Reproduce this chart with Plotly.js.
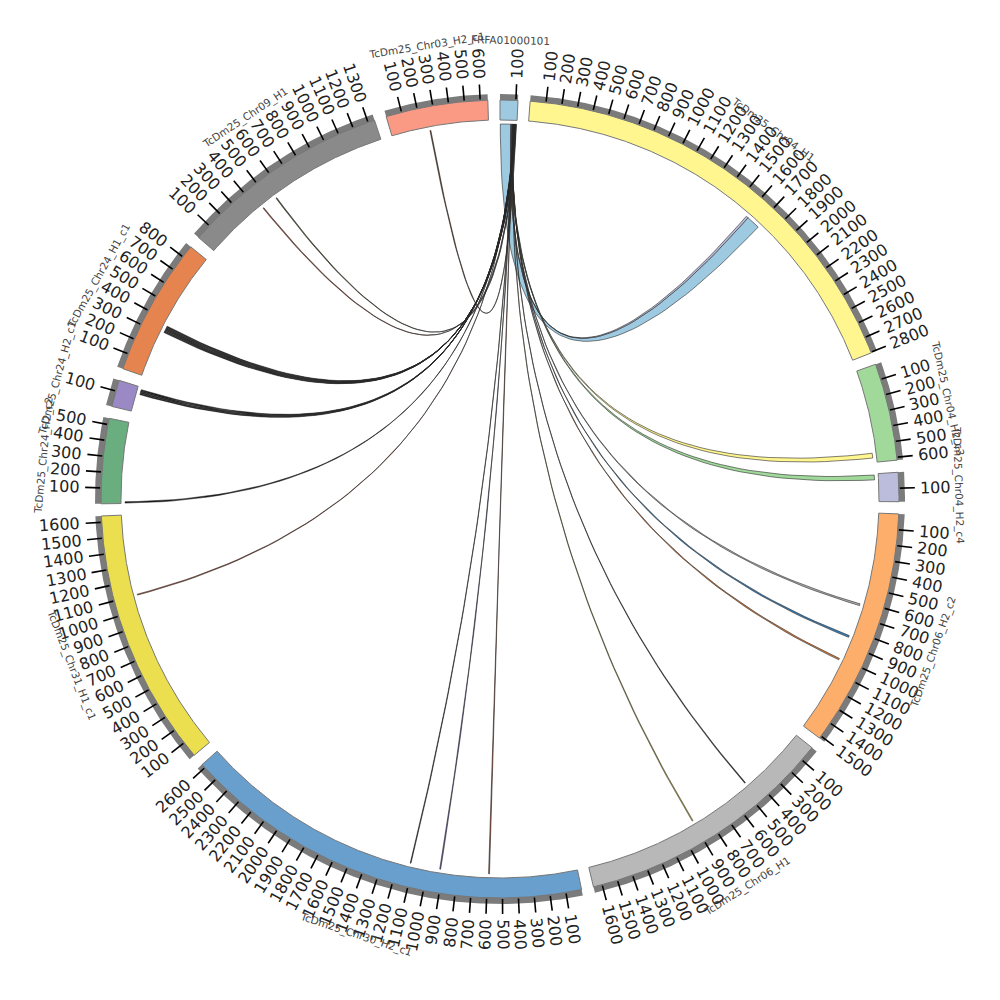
<!DOCTYPE html>
<html><head><meta charset="utf-8">
<script src="https://cdn.plot.ly/plotly-3.0.1.min.js"></script>
<style>html,body{margin:0;padding:0;background:#fff}#chart{width:1000px;height:1000px}</style>
</head><body><div id="chart"></div>
<script>
// ---------------- DATA ----------------
const segNames = ["FRFA01000101","TcDm25_Chr04_H1","TcDm25_Chr04_H2_c3","TcDm25_Chr04_H2_c4",
  "TcDm25_Chr06_H2_c2","TcDm25_Chr06_H1","TcDm25_Chr30_H2_c1","TcDm25_Chr31_H1_c1",
  "TcDm25_Chr24_H2_c2","TcDm25_Chr24_H2_c1","TcDm25_Chr24_H1_c1","TcDm25_Chr09_H1","TcDm25_Chr03_H2_c1"];
const segLengths = [113, 2805, 618, 185, 1515, 1656, 2626, 1640, 540, 170, 880, 1343, 648];
const segColors = ["#9ecae1","#fff68f","#a1d99b","#bcbddc","#fdae6b","#b8b8b8","#689fcd",
  "#ebdf50","#6aae7f","#9b89c5","#e6844f","#8a8a8a","#fa9a84"];

// chords: all start on FRFA01000101 (segment 0)
const chordTargetSeg   = [1, 1, 2, 3, 4, 4, 4, 5, 5, 6, 6, 6, 7, 8, 9, 9, 9, 9, 10, 10, 10, 10, 10, 10, 11, 11, 12];
const chordTargetStart = [1620, 1605, 556, 8, 616, 840, 1006, 462, 895, 586, 914, 1116, 1098, 3, 120, 129, 138, 147, 319, 327, 335, 343, 351, 359, 432, 541, 254];
const chordTargetEnd   = [1712, 1620, 588, 40, 628, 852, 1016, 468, 901, 592, 920, 1121, 1104, 12, 127, 136, 145, 154, 325, 333, 341, 349, 357, 366, 438, 547, 260];
const chordSourceStart = [2, 72, 76, 79, 82, 83.5, 85, 86.5, 87.5, 88.5, 89.5, 90.5, 91.3, 92.3, 94, 95, 96, 97, 98, 99, 100, 101, 102, 103, 104, 105.5, 107];
const chordSourceEnd   = [72, 76, 79, 82, 83.5, 85, 86.5, 87.5, 88.5, 89.5, 90.5, 91.3, 92.3, 94, 95, 96, 97, 98, 99, 100, 101, 102, 103, 104, 105.5, 107, 109];
const chordColors = ["#9ecae1","#bcbddc","#fff68f","#a1d99b","#b0b0b0","#3a7fb8","#d67a3a","#333333",
  "#e0d040","#c0502a","#6a60b0","#222222","#c0502a","#111111","#111111","#111111","#111111","#111111",
  "#111111","#111111","#111111","#111111","#111111","#111111","#b04a30","#4a4a20","#6b3b1b"];

const tickStep = 100;

// ---------------- GEOMETRY ----------------
const GAP = 1.75, START = 0;
const R_IN = 379, R_OUT = 399, R_BAND = 405, R_T0 = 400, R_T1 = 415, R_LAB = 421, R_NAME = 459, R_CHORD = 375;
const TICK_FS = 16, NAME_FS = 10.5;
const total = segLengths.reduce((a, b) => a + b, 0);
const k = (360 - GAP * segLengths.length) / total;
const segStart = [];
let acc = START;
for (let i = 0; i < segLengths.length; i++) { segStart.push(acc); acc += segLengths[i] * k + GAP; }
const ang = (s, p) => segStart[s] + p * k;
const D = Math.PI / 180;
const pol = (r, a) => [r * Math.sin(a * D), r * Math.cos(a * D)];

function arcPts(r, a0, a1, xs, ys) {
  const n = Math.max(2, Math.ceil(Math.abs(a1 - a0) / 0.2) + 1);
  for (let i = 0; i < n; i++) { const p = pol(r, a0 + (a1 - a0) * i / (n - 1)); xs.push(p[0]); ys.push(p[1]); }
}
function quadPts(p0, p2, xs, ys) {
  for (let i = 1; i <= 60; i++) { const t = i / 60, u = 1 - t; xs.push(u * u * p0[0] + t * t * p2[0]); ys.push(u * u * p0[1] + t * t * p2[1]); }
}

const traces = [];
// gray bands (outer tick band)
{
  const xs = [], ys = [];
  segLengths.forEach((L, s) => {
    const a0 = ang(s, 0), a1 = ang(s, L);
    arcPts(R_BAND, a0, a1, xs, ys); arcPts(R_OUT - 1, a1, a0, xs, ys);
    xs.push(null); ys.push(null);
  });
  traces.push({ type: "scatter", mode: "lines", x: xs, y: ys, fill: "toself", fillcolor: "#7b7b7b", line: { width: 0, color: "#7b7b7b" }, hoverinfo: "skip" });
}
// colored segments
segLengths.forEach((L, s) => {
  const xs = [], ys = [];
  const a0 = ang(s, 0), a1 = ang(s, L);
  arcPts(R_OUT, a0, a1, xs, ys); arcPts(R_IN, a1, a0, xs, ys);
  xs.push(xs[0]); ys.push(ys[0]);
  traces.push({ type: "scatter", mode: "lines", x: xs, y: ys, fill: "toself", fillcolor: segColors[s], line: { width: 1, color: "#777" }, hoverinfo: "skip" });
});
// major ticks
{
  const xs = [], ys = [];
  segLengths.forEach((L, s) => {
    for (let p = tickStep; p <= L; p += tickStep) {
      const a = ang(s, p), q0 = pol(R_T0, a), q1 = pol(R_T1, a);
      xs.push(q0[0], q1[0], null); ys.push(q0[1], q1[1], null);
    }
  });
  traces.push({ type: "scatter", mode: "lines", x: xs, y: ys, line: { width: 1.6, color: "#000" }, hoverinfo: "skip" });
}
// chords (d3-ribbon style: quadratic curves through the centre)
chordTargetSeg.forEach((t, i) => {
  const a0 = ang(0, chordSourceStart[i]), a1 = ang(0, chordSourceEnd[i]);
  const b0 = ang(t, chordTargetStart[i]), b1 = ang(t, chordTargetEnd[i]);
  const xs = [], ys = [];
  arcPts(R_CHORD, a0, a1, xs, ys);
  quadPts(pol(R_CHORD, a1), pol(R_CHORD, b0), xs, ys);
  arcPts(R_CHORD, b0, b1, xs, ys);
  quadPts(pol(R_CHORD, b1), pol(R_CHORD, a0), xs, ys);
  traces.push({ type: "scatter", mode: "lines", x: xs, y: ys, fill: "toself", fillcolor: chordColors[i],
    line: { width: 0.6, color: "#2a2a2a" }, opacity: 1, hoverinfo: "skip" });
});

// ---------------- TEXT ----------------
const annotations = [];
segLengths.forEach((L, s) => {
  for (let p = tickStep; p <= L; p += tickStep) {
    const a = ang(s, p);
    const txt = String(p);
    const w = txt.length * 0.62 * TICK_FS;
    const c = pol(R_LAB + w / 2, a);
    const rot = (a % 360) < 180 ? a - 90 : a - 270;
    annotations.push({ x: c[0], y: c[1], xref: "x", yref: "y", text: txt, showarrow: false, textangle: rot,
      xanchor: "center", yanchor: "middle", font: { family: "DejaVu Sans", size: TICK_FS, color: "#222" }, borderpad: 0 });
  }
  const m = ang(s, L / 2);
  const c = pol(R_NAME, m);
  const mm = ((m % 360) + 360) % 360;
  let rot = (mm > 90 && mm < 270) ? mm - 180 : (mm >= 270 ? mm - 360 : mm);
  annotations.push({ x: c[0], y: c[1], xref: "x", yref: "y", text: segNames[s], showarrow: false, textangle: rot,
    xanchor: "center", yanchor: "middle", font: { family: "DejaVu Sans", size: NAME_FS, color: "#444" }, borderpad: 0 });
});

const layout = {
  width: 1000, height: 1000, margin: { l: 0, r: 0, t: 0, b: 0 },
  paper_bgcolor: "#fff", plot_bgcolor: "#fff", showlegend: false, hovermode: false,
  xaxis: { range: [-500, 500], visible: false, fixedrange: true },
  yaxis: { range: [-501, 499], visible: false, fixedrange: true },
  annotations: annotations
};
Plotly.newPlot("chart", traces, layout, { staticPlot: true, displayModeBar: false });
</script></body></html>
